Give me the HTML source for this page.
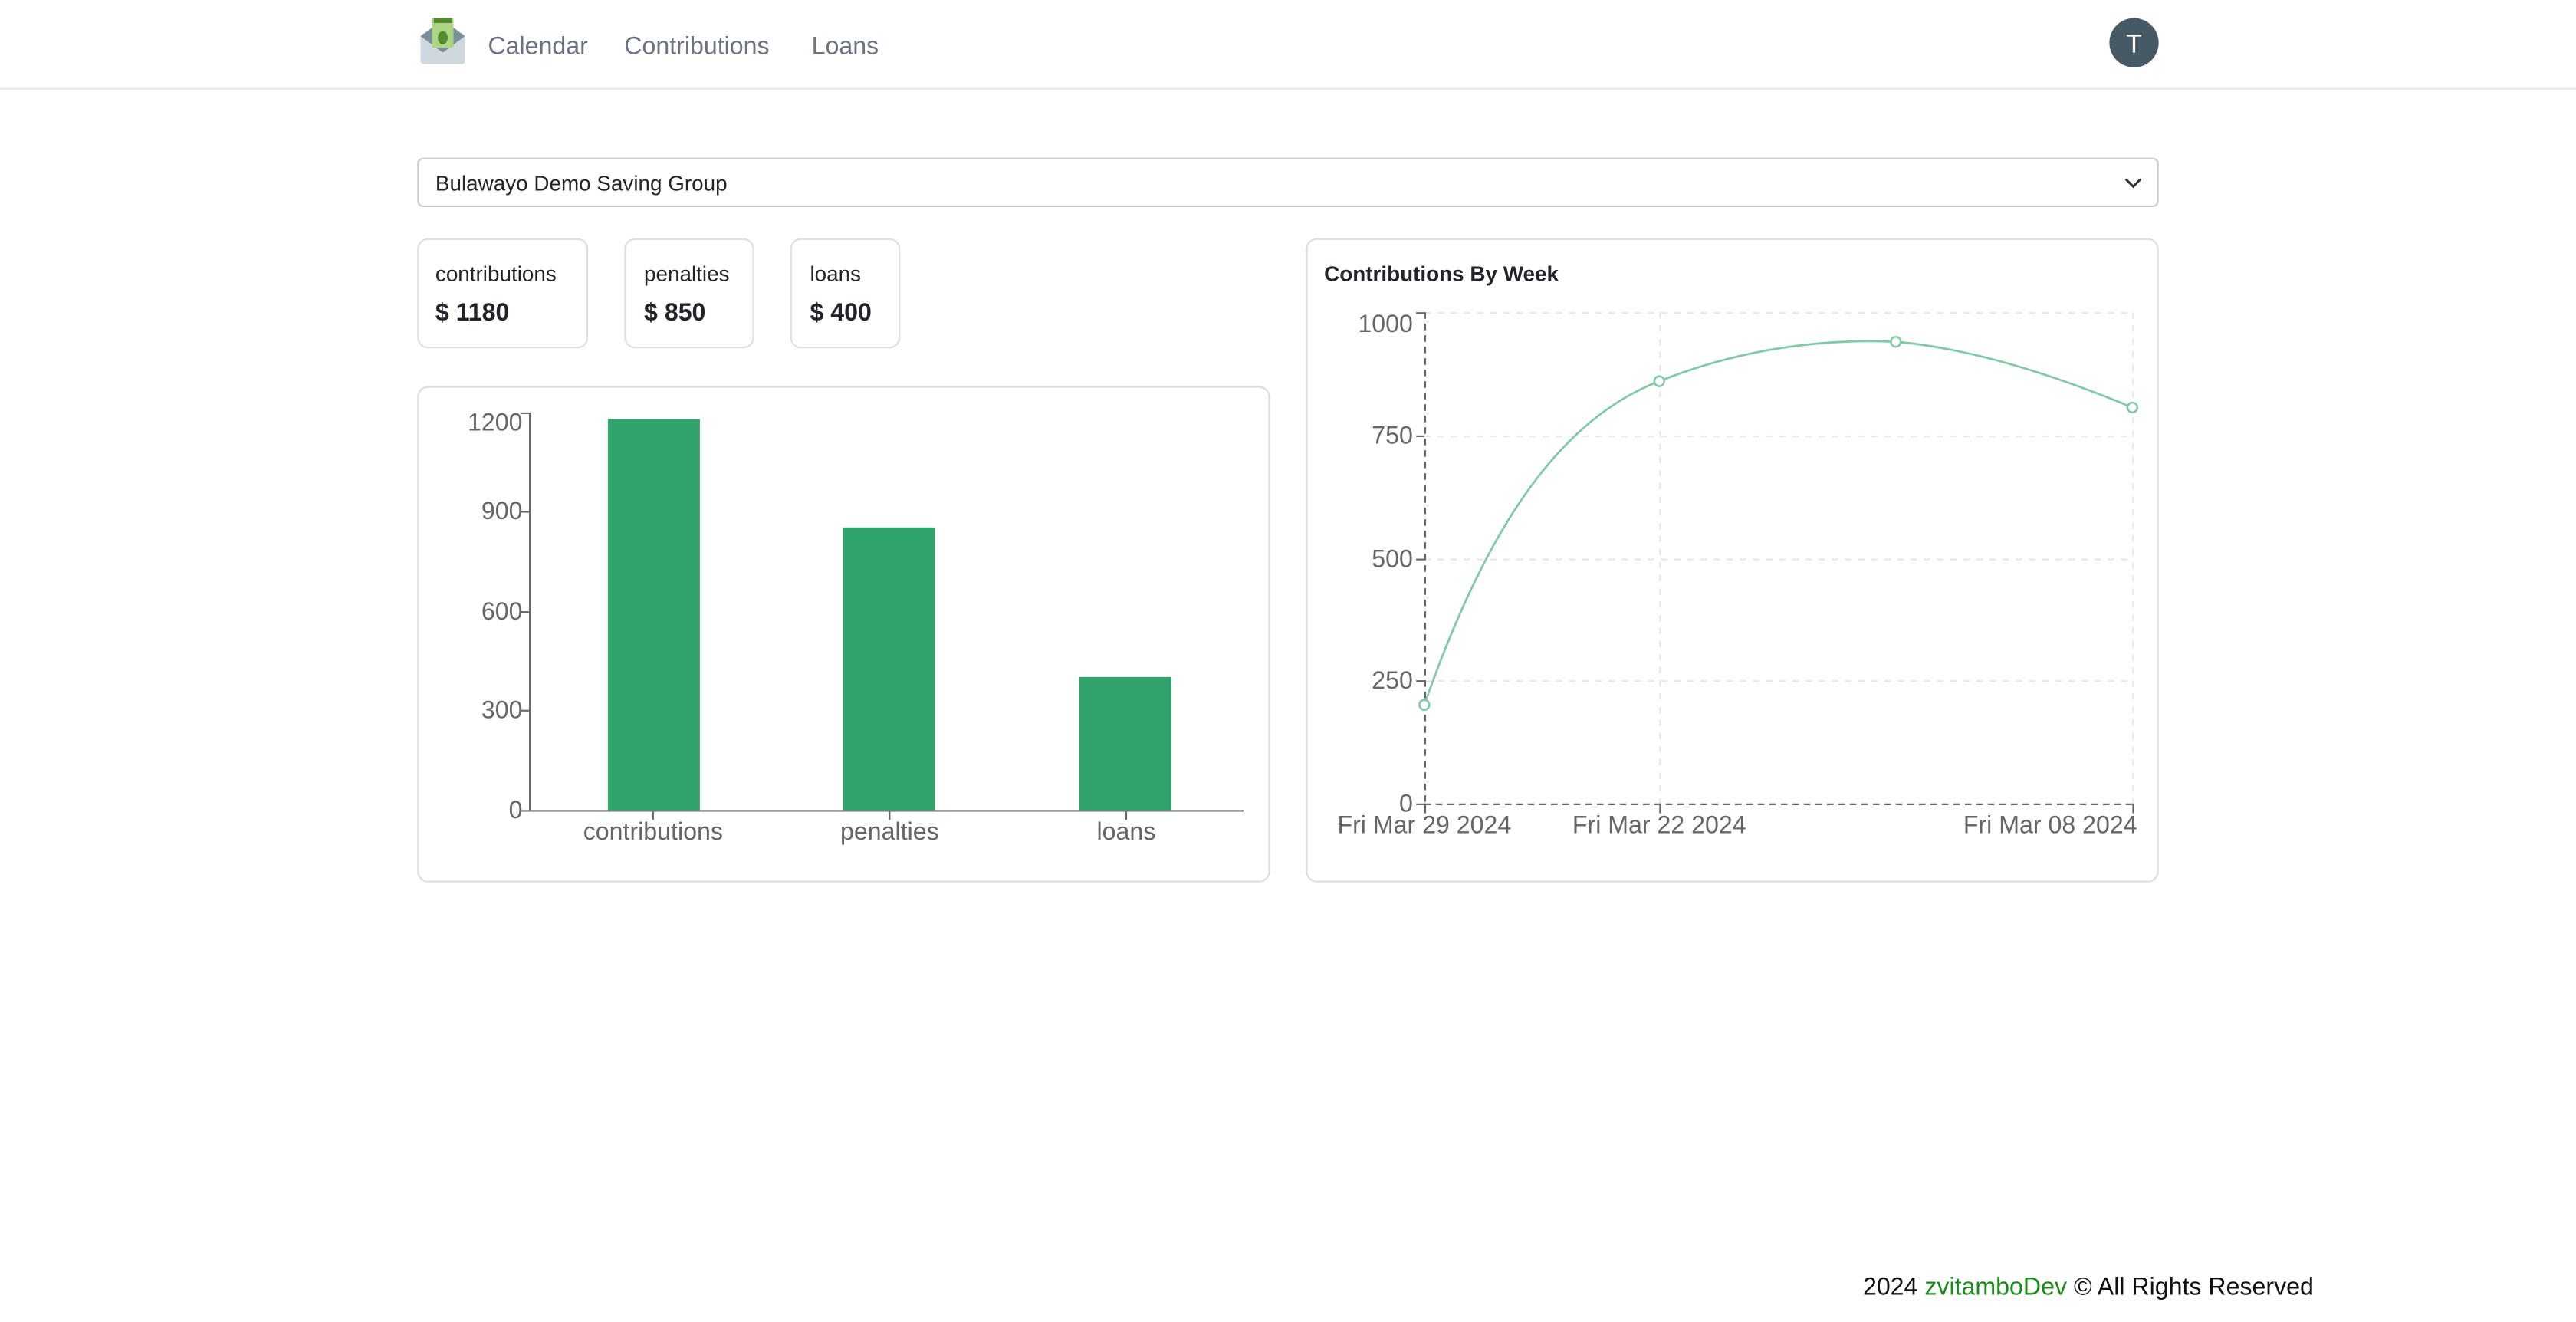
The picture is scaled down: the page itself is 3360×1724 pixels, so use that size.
<!DOCTYPE html>
<html><head><meta charset="utf-8"><style>
html,body{margin:0;padding:0;background:#fff;}
svg{display:block;}
text{font-family:"Liberation Sans",sans-serif;}
</style></head><body>
<svg width="3360" height="1724" viewBox="0 0 1568 804.57" xmlns="http://www.w3.org/2000/svg">
<rect width="1568" height="805" fill="#fff"/>
<!-- navbar -->
<line x1="0" y1="54" x2="1568" y2="54" stroke="#e5e7eb" stroke-width="1"/>
<rect x="256" y="20" width="27" height="19" rx="3" fill="#cfd8dc"/>
<path d="M256 22 L269.5 12 L283 22 L269.5 32 Z" fill="#78909c"/>
<rect x="263" y="11" width="13" height="18" fill="#aed581"/>
<rect x="264" y="11" width="11" height="3" fill="#558b2f"/>
<ellipse cx="269.5" cy="23" rx="3" ry="4" fill="#558b2f"/>
<path d="M256 24 L269.5 33 L283 24 L283 37 Q283 39 281 39 L258 39 Q256 39 256 37 Z" fill="#cfd8dc"/>
<text x="297" y="33" font-size="15" fill="#6b7280">Calendar</text>
<text x="380" y="33" font-size="15" fill="#6b7280">Contributions</text>
<text x="494" y="33" font-size="15" fill="#6b7280">Loans</text>
<circle cx="1299" cy="26" r="15" fill="#455a64"/>
<text x="1299" y="32" font-size="16" fill="#fff" text-anchor="middle">T</text>
<!-- select -->
<rect x="254.5" y="96.5" width="1059" height="29" rx="3" fill="#fff" stroke="#c8c8c8"/>
<text x="265" y="116" font-size="13" fill="#212529">Bulawayo Demo Saving Group</text>
<path d="M1294 109 L1298.5 113.5 L1303 109" fill="none" stroke="#333" stroke-width="1.4"/>
<!-- stat cards -->
<rect x="254.5" y="145.5" width="103" height="66" rx="6" fill="#fff" stroke="#dedede"/>
<text x="265" y="171" font-size="13" fill="#212529">contributions</text>
<text x="265" y="195" font-size="15" font-weight="bold" fill="#212529">$ 1180</text>
<rect x="380.5" y="145.5" width="78" height="66" rx="6" fill="#fff" stroke="#dedede"/>
<text x="392" y="171" font-size="13" fill="#212529">penalties</text>
<text x="392" y="195" font-size="15" font-weight="bold" fill="#212529">$ 850</text>
<rect x="481.5" y="145.5" width="66" height="66" rx="6" fill="#fff" stroke="#dedede"/>
<text x="493" y="171" font-size="13" fill="#212529">loans</text>
<text x="493" y="195" font-size="15" font-weight="bold" fill="#212529">$ 400</text>
<!-- bar card -->
<rect x="254.5" y="235.5" width="518" height="301" rx="6" fill="#fff" stroke="#dedede"/>
<g stroke="#666" stroke-width="1">
<line x1="322.5" y1="251" x2="322.5" y2="493"/>
<line x1="322" y1="493.5" x2="757" y2="493.5"/>
<line x1="317" y1="251.5" x2="322" y2="251.5"/>
<line x1="317" y1="311.5" x2="322" y2="311.5"/>
<line x1="317" y1="372.5" x2="322" y2="372.5"/>
<line x1="317" y1="432.5" x2="322" y2="432.5"/>
<line x1="317" y1="493.5" x2="322" y2="493.5"/>
<line x1="397.5" y1="493" x2="397.5" y2="499"/>
<line x1="541.5" y1="493" x2="541.5" y2="499"/>
<line x1="685.5" y1="493" x2="685.5" y2="499"/>
</g>
<g font-size="15" fill="#666" text-anchor="end">
<text x="318" y="262">1200</text>
<text x="318" y="316">900</text>
<text x="318" y="377">600</text>
<text x="318" y="437">300</text>
<text x="318" y="498">0</text>
</g>
<rect x="370" y="255" width="56" height="238" fill="#31a46c"/>
<rect x="513" y="321" width="56" height="172" fill="#31a46c"/>
<rect x="657" y="412" width="56" height="81" fill="#31a46c"/>
<g font-size="15" fill="#666" text-anchor="middle">
<text x="397.5" y="511">contributions</text>
<text x="541.5" y="511">penalties</text>
<text x="685.5" y="511">loans</text>
</g>
<!-- line card -->
<rect x="795.5" y="145.5" width="518" height="391" rx="6" fill="#fff" stroke="#dedede"/>
<text x="806" y="171" font-size="13" font-weight="bold" fill="#212529">Contributions By Week</text>
<g stroke="#e6e6e6" stroke-dasharray="4 4" fill="none">
<line x1="867" y1="190.5" x2="1298" y2="190.5"/>
<line x1="867" y1="265.5" x2="1298" y2="265.5"/>
<line x1="867" y1="340.5" x2="1298" y2="340.5"/>
<line x1="867" y1="414.5" x2="1298" y2="414.5"/>
<line x1="1010.5" y1="190" x2="1010.5" y2="489"/>
<line x1="1298.5" y1="190" x2="1298.5" y2="489"/>
</g>
<g stroke="#666" fill="none">
<line x1="867.5" y1="190" x2="867.5" y2="489" stroke-dasharray="4 3"/>
<line x1="867" y1="489.5" x2="1298" y2="489.5" stroke-dasharray="4 3"/>
<line x1="862" y1="190.5" x2="867" y2="190.5"/>
<line x1="862" y1="265.5" x2="867" y2="265.5"/>
<line x1="862" y1="340.5" x2="867" y2="340.5"/>
<line x1="862" y1="414.5" x2="867" y2="414.5"/>
<line x1="862" y1="489.5" x2="867" y2="489.5"/>
<line x1="867.5" y1="489" x2="867.5" y2="495"/>
<line x1="1010.5" y1="489" x2="1010.5" y2="495"/>
<line x1="1298.5" y1="489" x2="1298.5" y2="495"/>
</g>
<g font-size="15" fill="#666" text-anchor="end">
<text x="860" y="202">1000</text>
<text x="860" y="270">750</text>
<text x="860" y="345">500</text>
<text x="860" y="419">250</text>
<text x="860" y="494">0</text>
</g>
<g font-size="15" fill="#666" text-anchor="middle">
<text x="867" y="507">Fri Mar 29 2024</text>
<text x="1010" y="507">Fri Mar 22 2024</text>
<text x="1248" y="507">Fri Mar 08 2024</text>
</g>
<path d="M867 429 C905 320 950 255 1010 232 C1060 212 1110 206 1154 208 C1200 212 1250 228 1298 248" fill="none" stroke="#82c9a6" stroke-width="1.3"/>
<g fill="#fff" stroke="#82c9a6" stroke-width="1.2">
<circle cx="867" cy="429" r="3"/>
<circle cx="1010" cy="232" r="3"/>
<circle cx="1154" cy="208" r="3"/>
<circle cx="1298" cy="248" r="3"/>
</g>
<!-- footer -->
<text x="1134" y="788" font-size="15" fill="#111">2024 <tspan fill="#1a8a1a">zvitamboDev</tspan> © All Rights Reserved</text>
</svg>
</body></html>
